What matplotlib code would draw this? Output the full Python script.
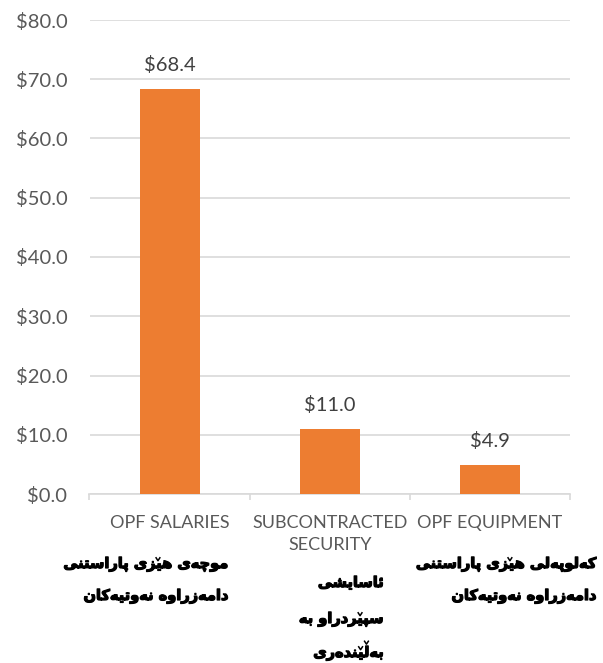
import matplotlib
matplotlib.use("Agg")
import matplotlib.pyplot as plt
import matplotlib.patheffects as pe
from matplotlib.lines import Line2D
from matplotlib.font_manager import FontProperties, findfont
from matplotlib.ft2font import FT2Font
import numpy as np

plt.rcParams['font.family'] = ['Lato', 'DejaVu Sans']

W, H, DPI = 603, 663, 100

# === 数据 ===
categories_en = ["OPF SALARIES", "SUBCONTRACTED\nSECURITY", "OPF EQUIPMENT"]
categories_ku = [
    ["موچەی هێزی پاراستنی", "دامەزراوە نەوتیەکان"],
    ["ئاسایشی", "سپێردراو بە", "بەڵێندەری"],
    ["کەلوپەلی هێزی پاراستنی", "دامەزراوە نەوتیەکان"],
]
values = [68.4, 11.0, 4.9]
yticks = [0, 10, 20, 30, 40, 50, 60, 70, 80]

# Kurdish label placement (pixels: right edge, baseline of each line)
KU_RIGHT = [229, 384, 597]
KU_BASE = [[568, 600], [587, 623, 657], [568, 600]]
KU_SIZE = 10.5

# --- tiny Arabic-script shaper (matplotlib has no complex text layout) ---
# (isolated, final, initial, medial); right-joining letters have no initial/medial
JOIN_FORMS = {
    "ا": ("\uFE8D", "\uFE8E", None, None),
    "د": ("\uFEA9", "\uFEAA", None, None),
    "ر": ("\uFEAD", "\uFEAE", None, None),
    "ز": ("\uFEAF", "\uFEB0", None, None),
    "و": ("\uFEED", "\uFEEE", None, None),
    "ە": ("\uFEE9", "\uFEEA", None, None),
    "ئ": ("\uFE89", "\uFE8A", "\uFE8B", "\uFE8C"),
    "ب": ("\uFE8F", "\uFE90", "\uFE91", "\uFE92"),
    "پ": ("\uFB56", "\uFB57", "\uFB58", "\uFB59"),
    "ت": ("\uFE95", "\uFE96", "\uFE97", "\uFE98"),
    "چ": ("\uFB7A", "\uFB7B", "\uFB7C", "\uFB7D"),
    "س": ("\uFEB1", "\uFEB2", "\uFEB3", "\uFEB4"),
    "ش": ("\uFEB5", "\uFEB6", "\uFEB7", "\uFEB8"),
    "ک": ("\uFB8E", "\uFB8F", "\uFB90", "\uFB91"),
    "ل": ("\uFEDD", "\uFEDE", "\uFEDF", "\uFEE0"),
    "م": ("\uFEE1", "\uFEE2", "\uFEE3", "\uFEE4"),
    "ن": ("\uFEE5", "\uFEE6", "\uFEE7", "\uFEE8"),
    "ه": ("\uFEE9", "\uFEEA", "\uFEEB", "\uFEEC"),
    "ی": ("\uFBFC", "\uFBFD", "\uFBFE", "\uFBFF"),
}
V_LETTERS = {"ێ": "ی", "ڵ": "ل"}   # letters with small v above


def base_of(c):
    return V_LETTERS.get(c, c)


def shape_rtl(line, charmap):
    out = []
    n = len(line)
    for i, c in enumerate(line):
        b = base_of(c)
        if b not in JOIN_FORMS:
            out.append((c, None))
            continue
        forms = JOIN_FORMS[b]
        prev = base_of(line[i - 1]) if i > 0 else None
        nxt = base_of(line[i + 1]) if i < n - 1 else None
        jp = prev in JOIN_FORMS and JOIN_FORMS[prev][2] is not None
        jn = forms[2] is not None and nxt in JOIN_FORMS
        idx = 3 if (jp and jn) else 1 if jp else 2 if jn else 0
        g = forms[idx]
        if ord(g) not in charmap:
            g = b
        out.append((g, c if c in V_LETTERS else None))
    return out[::-1]


# pick bold DejaVu if it has the Arabic glyphs
need = set("".join(f for forms in JOIN_FORMS.values() for f in forms if f))
ku_font = FontProperties(family="DejaVu Sans", weight="bold", size=KU_SIZE)
ft = FT2Font(findfont(ku_font), hinting_factor=1)
cm = ft.get_charmap()
reg_font = FontProperties(family="DejaVu Sans", weight="normal", size=KU_SIZE)
ft_reg = FT2Font(findfont(reg_font), hinting_factor=1)
if sum(ord(c) in cm for c in need) < sum(ord(c) in ft_reg.get_charmap() for c in need):
    ku_font, ft = reg_font, ft_reg
    cm = ft.get_charmap()
ft.set_size(KU_SIZE, DPI)
px = KU_SIZE * DPI / 72
heavy = [pe.withStroke(linewidth=0.9, foreground="black")]


def draw_ku(line, x_right, y_base):
    shaped = shape_rtl(line, cm)
    s = "".join(g for g, _ in shaped)
    fig.text(x_right / W, 1 - y_base / H, s, ha="right", va="baseline",
             fontproperties=ku_font, color="black", path_effects=heavy)
    adv = [ft.load_char(ord(g)).linearHoriAdvance / 65536 for g, _ in shaped]
    total = sum(adv)
    cum = 0
    for (g, mk), a in zip(shaped, adv):
        if mk:
            mx = x_right - (total - cum - a / 2)
            lo = (0.88 if mk == "ڵ" else 0.50) * px
            hi = lo + 0.2 * px
            hw = 0.13 * px
            xs = [mx - hw, mx, mx + hw]
            ys = [y_base - hi, y_base - lo, y_base - hi]
            fig.add_artist(Line2D([v / W for v in xs], [1 - v / H for v in ys],
                                  transform=fig.transFigure, color="black", lw=1.1))
        cum += a


fig = plt.figure(figsize=(W / DPI, H / DPI), dpi=DPI)
ax = fig.add_axes([89.5 / W, 1 - 494 / H, 480.5 / W, 474 / H])

x = np.arange(len(values))
ax.bar(x, values, width=0.375, color="#ED7D31", zorder=3)
ax.set_xlim(-0.5, len(values) - 0.5)
ax.set_ylim(0, 80)
ax.set_yticks(yticks)
ax.set_yticklabels([f"${v:.1f}" for v in yticks])
ax.grid(axis="y", color="#D9D9D9", linewidth=1.2, zorder=0)
for s in ["left", "right", "top"]:
    ax.spines[s].set_visible(False)
ax.spines["bottom"].set_color("#D9D9D9")
ax.spines["bottom"].set_linewidth(1.2)
ax.tick_params(axis="y", length=0, pad=16, labelsize=14.5, labelcolor="#595959")
ax.set_xticks(x)
ax.set_xticklabels(categories_en, linespacing=1.45)
ax.tick_params(axis="x", which="major", length=0, pad=15, labelsize=13, labelcolor="#595959")
ax.set_xticks(np.arange(len(values) + 1) - 0.5, minor=True)
ax.tick_params(axis="x", which="minor", length=4, width=1.2, color="#D9D9D9", direction="out")

for xi, v in zip(x, values):
    ax.annotate(f"${v:.1f}", (xi, v), xytext=(0, 13), textcoords="offset points",
                ha="center", va="baseline", fontsize=14.5, color="#404040")

for lines, xr, bases in zip(categories_ku, KU_RIGHT, KU_BASE):
    for line, yb in zip(lines, bases):
        draw_ku(line, xr, yb)

fig.savefig("out.png", dpi=DPI)
